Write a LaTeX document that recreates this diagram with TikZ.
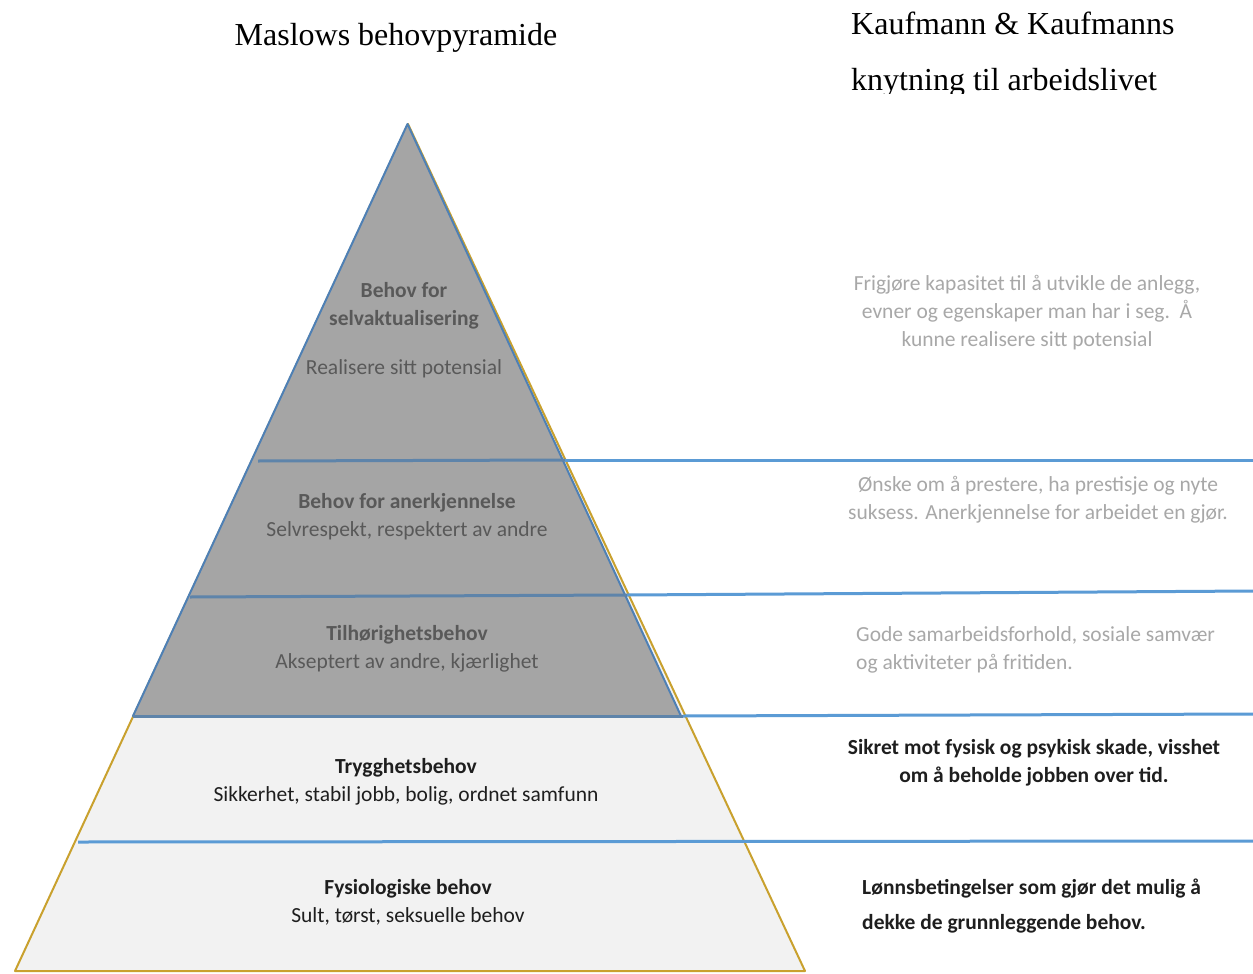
\documentclass[tikz,border=0pt]{standalone}
\usepackage{fontspec}
\setmainfont{Carlito}
\newfontfamily\timesfont{Liberation Serif}
\definecolor{pyrgray}{HTML}{A5A5A5}
\definecolor{pyrlight}{HTML}{F2F2F2}
\definecolor{pyrgold}{HTML}{C9A12E}
\definecolor{lineblue}{HTML}{5B9BD5}
\definecolor{edgeblue}{HTML}{4E80B5}
\definecolor{innerblue}{HTML}{5E84AA}
\definecolor{darktxt}{HTML}{595959}
\definecolor{lighttxt}{HTML}{A8A8A8}
\definecolor{blacktxt}{HTML}{1E1E1E}
\begin{document}
\begin{tikzpicture}[x=1pt,y=-1pt,
  title/.style={font=\timesfont\fontsize{32}{36}\selectfont, anchor=base west, inner sep=0pt},
  lvl/.style={font=\fontsize{21.5}{28}\selectfont, align=center, inner sep=0pt},
  lvlb/.style={lvl, font=\bfseries\fontsize{21.5}{28}\selectfont},
  sep/.style={lineblue, line width=3pt},
  sepin/.style={innerblue, line width=3pt}]
\useasboundingbox (0,0) rectangle (1253,974);
\fill[white] (0,0) rectangle (1253,974);
% titles
\node[title, anchor=base] (t1) at (396,46) {Maslows behovpyramide};
\node[title] (t2) at (851,35) {Kaufmann \& Kaufmanns};
\begin{scope}
\clip (800,50) rectangle (1253,93);
\node[title] (t3) at (851,90) {knytning til arbeidslivet};
\end{scope}
% outer pyramid
\coordinate (apex) at (408,124);
\coordinate (bl) at (15,971);
\coordinate (br) at (805,971);
\coordinate (gl) at (133,716);
\coordinate (gr) at (683,716);
\filldraw[fill=pyrlight, draw=pyrgold, line width=2pt, line join=round] (apex) -- (br) -- (bl) -- cycle;
\filldraw[fill=pyrgray, draw=edgeblue, line width=2pt, line join=round] ([xshift=-0.5pt]apex) -- ([xshift=-2pt]gr) -- (gl) -- cycle;
% separators
\coordinate (a1) at (258,461); \coordinate (a2) at (565,460); \coordinate (a3) at (1253,460);
\coordinate (b1) at (190,597); \coordinate (b2) at (627,595); \coordinate (b3) at (1253,591);
\coordinate (c3) at (1253,714);
\coordinate (d1) at (78,842); \coordinate (d3) at (1253,841);
\draw[sepin] (a1) -- (a2);
\draw[sep] (a2) -- (a3);
\draw[sepin] (b1) -- (b2);
\draw[sep] (b2) -- (b3);
\draw[sepin] (gl) -- (gr);
\draw[sep] (gr) -- (c3);
\draw[sep] (d1) -- (d3);
% pyramid texts
\node[lvlb, text=darktxt] (s1) at (404,306) {Behov for\\selvaktualisering};
\node[lvl, text=darktxt] (s2) at (404,369) {Realisere sitt potensial};
\node[lvl, text=darktxt] (e1) at (407,517) {\textbf{Behov for anerkjennelse}\\Selvrespekt, respektert av andre};
\node[lvl, text=darktxt] (h1) at (407,649) {\textbf{Tilhørighetsbehov}\\Akseptert av andre, kjærlighet};
\node[lvl, text=blacktxt] (y1) at (406,782) {\textbf{Trygghetsbehov}\\Sikkerhet, stabil jobb, bolig, ordnet samfunn};
\node[lvl, text=blacktxt] (f1) at (408,902) {\textbf{Fysiologiske behov}\\Sult, tørst, seksuelle behov};
% right texts
\node[lvl, text=lighttxt] (r1) at (1027,313) {Frigjøre kapasitet til å utvikle de anlegg,\\evner og egenskaper man har i seg.\ \ Å\\kunne realisere sitt potensial};
\node[lvl, text=lighttxt] (r2) at (1038,500) {Ønske om å prestere, ha prestisje og nyte\\suksess. Anerkjennelse for arbeidet en gjør.};
\node[lvl, text=lighttxt, align=left, anchor=west] (r3) at (856,650) {Gode samarbeidsforhold, sosiale samvær\\og aktiviteter på fritiden.};
\node[lvlb, text=blacktxt] (r4) at (1034,763) {Sikret mot fysisk og psykisk skade, visshet\\om å beholde jobben over tid.};
\node[lvl, text=blacktxt, align=left, anchor=west, font=\bfseries\fontsize{21.5}{35}\selectfont] (r5) at (862,906) {Lønnsbetingelser som gjør det mulig å\\dekke de grunnleggende behov.};
\end{tikzpicture}
\end{document}
